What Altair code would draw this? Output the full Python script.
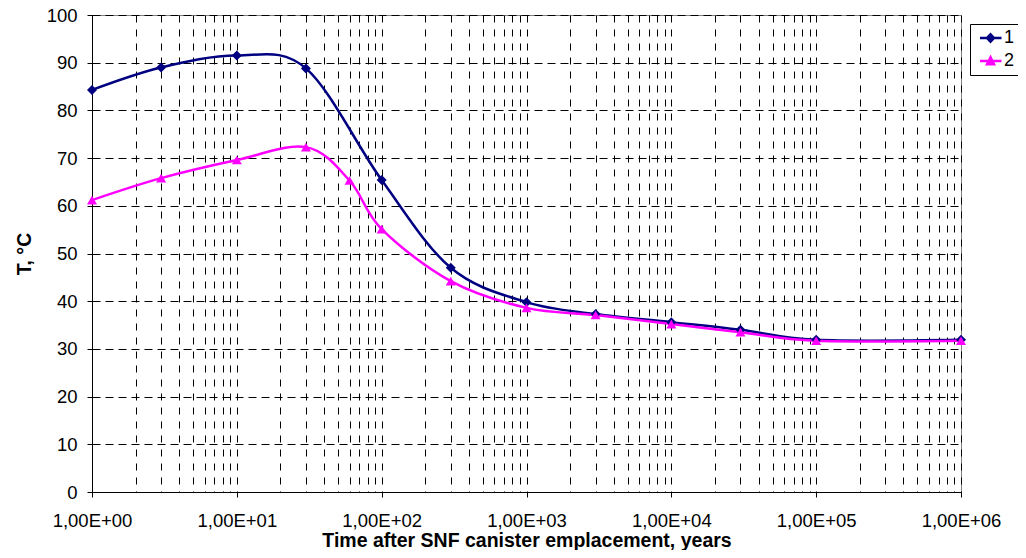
import altair as alt
import pandas as pd

# ---- data ----
series_names = ["1", "2"]
series_colors = ["#000080", "#FF00FF"]

years_1 = [1, 3, 10, 30, 100, 300, 1000, 3000, 10000, 30000, 100000, 1000000]
temp_1 = [84.3, 89.0, 91.5, 88.8, 65.4, 47.0, 39.8, 37.3, 35.6, 34.0, 31.9, 31.9]

years_2 = [1, 3, 10, 30, 60, 100, 300, 1000, 3000, 10000, 30000, 100000, 1000000]
temp_2 = [61.2, 65.8, 69.6, 72.3, 65.3, 55.1, 44.2, 38.6, 37.1, 35.2, 33.5, 31.7, 31.7]

y_ticks = [0, 10, 20, 30, 40, 50, 60, 70, 80, 90, 100]
x_decades = [1, 10, 100, 1000, 10000, 100000, 1000000]
x_grid = [d * k for d in x_decades[:-1] for k in range(1, 10)] + [x_decades[-1]]

df = pd.DataFrame({
    "years": years_1 + years_2,
    "temp": temp_1 + temp_2,
    "series": [series_names[0]] * len(years_1) + [series_names[1]] * len(years_2),
})

FONT = "Liberation Sans"
is_decade = "abs(log(datum.value)/LN10 - round(log(datum.value)/LN10)) < 1e-6"

x = alt.X(
    "years:Q",
    scale=alt.Scale(type="log", domain=[1, 1000000], nice=False),
    title="Time after SNF canister emplacement, years",
    axis=alt.Axis(
        values=x_grid,
        labelExpr="(" + is_decade + ") ? ('1,00E+0' + round(log(datum.value)/LN10)) : ''",
        labelFlush=False,
        labelOverlap=False,
        grid=True,
        gridColor="#000000",
        gridDash=[7, 7],
        gridWidth=1,
        tickColor="#000000",
        tickSize=5,
        tickOpacity={"condition": {"test": is_decade, "value": 1}, "value": 0},
        domainColor="#000000",
        labelPadding=14,
        titlePadding=2,
    ),
)
y = alt.Y(
    "temp:Q",
    scale=alt.Scale(domain=[0, 100], nice=False),
    title="T, °C",
    axis=alt.Axis(
        values=y_ticks,
        grid=True,
        gridColor="#000000",
        gridDash=[8, 5],
        gridWidth=1,
        tickColor="#000000",
        tickSize=5,
        domainColor="#000000",
        labelPadding=10,
        titlePadding=12,
    ),
)

color = alt.Color("series:N", scale=alt.Scale(domain=series_names, range=series_colors), legend=None)

lines = alt.Chart(df).mark_line(interpolate="cardinal", strokeWidth=2.5).encode(
    x=x, y=y, color=color, detail="series:N"
)

points = alt.Chart(df).mark_point(filled=True, size=100, opacity=1).encode(
    x=x, y=y, color=color,
    shape=alt.Shape("series:N",
                    scale=alt.Scale(domain=series_names, range=["diamond", "triangle-up"]),
                    legend=None),
)

legend_paths = [
    "M-0.8,0L3.5,0M1.3,-0.75L2.0,0L1.3,0.75L0.6,0Z",
    "M-0.8,0L3.5,0M0.6,0.65L1.3,-0.75L2.0,0.65Z",
]
leg = alt.Legend(
    orient="none", legendX=878, legendY=9,
    strokeColor="#000000", fillColor="#FFFFFF", padding=5,
    labelFont=FONT, labelFontSize=18, labelColor="#000000",
    symbolSize=100, symbolStrokeWidth=2.5, symbolOpacity=1,
    labelOffset=11, rowPadding=5,
)
helper = alt.Chart(df).transform_filter("false").mark_point(size=100, strokeWidth=2.5, opacity=1).encode(
    x=x, y=y,
    fill=alt.Fill("series:N", title=None, scale=alt.Scale(domain=series_names, range=series_colors), legend=leg),
    stroke=alt.Stroke("series:N", title=None, scale=alt.Scale(domain=series_names, range=series_colors), legend=leg),
    shape=alt.Shape("series:N", title=None, scale=alt.Scale(domain=series_names, range=legend_paths), legend=leg),
)

chart = (
    alt.layer(lines, points, helper)
    .resolve_scale(shape="independent", fill="independent", stroke="independent")
    .properties(
        width=869, height=477,
        autosize=alt.AutoSizeParams(type="none"),
        padding={"left": 84, "top": 7, "right": 57, "bottom": 58},
    )
    .configure_view(stroke="#808080", strokeWidth=1)
    .configure_axis(
        labelFont=FONT, labelFontSize=18.5, labelColor="#000000",
        titleFont=FONT, titleFontSize=19.5, titleFontWeight="bold", titleColor="#000000",
    )
)

chart.save("out.html", embed_options={"renderer": "svg", "actions": False})
